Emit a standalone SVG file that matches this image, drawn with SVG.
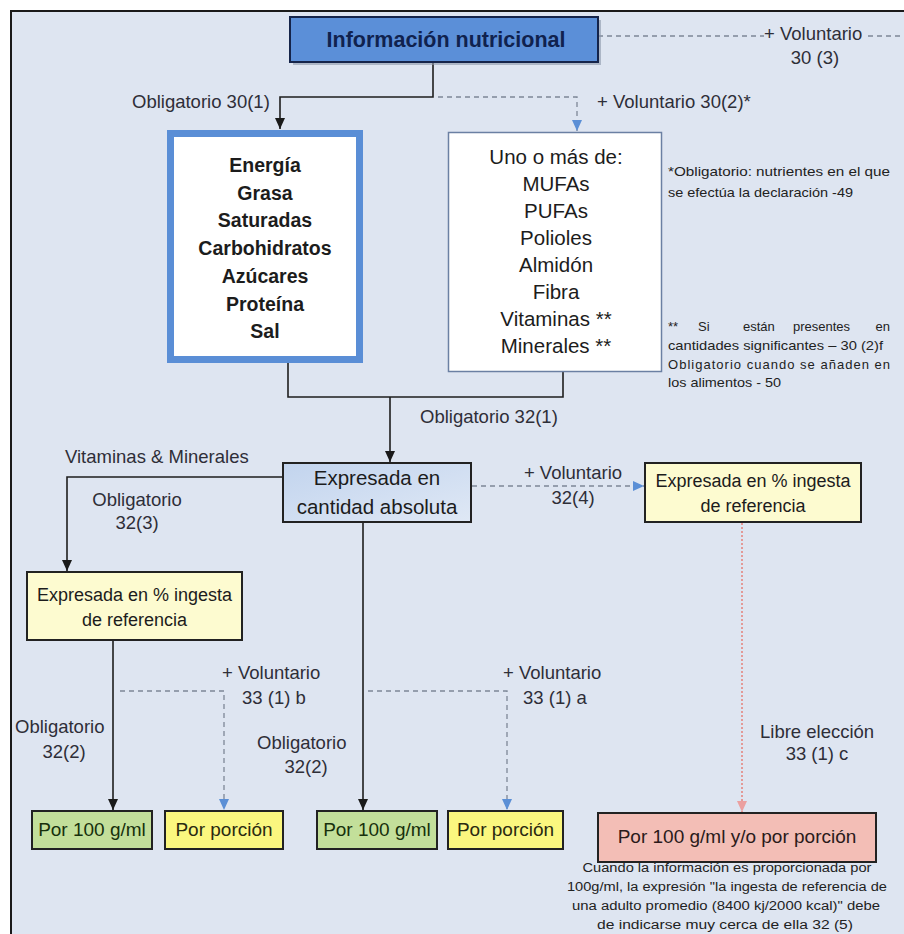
<svg xmlns="http://www.w3.org/2000/svg" width="904" height="934" viewBox="0 0 904 934">
<defs>
<style>
text{font-family:"Liberation Sans",Arial,sans-serif;fill:#1c1c1c}
.lbl{font-size:18.5px;fill:#2e2e38}
.box{font-size:18px}
.bold{font-weight:bold}
.note{font-size:13px;fill:#222}
.cap{font-size:12.5px;fill:#222}
.mid{text-anchor:middle}
.solid{fill:none;stroke:#1e1e1e;stroke-width:1.6}
.dash{fill:none;stroke:#7d8797;stroke-width:1.3;stroke-dasharray:5 4}
.dot{fill:none;stroke:#e39a98;stroke-width:2;stroke-dasharray:2 2}
.bx{stroke:#222;stroke-width:2}
.lb{font-weight:bold;font-size:19.5px}
.rb{font-size:20.5px}
.sm{font-size:19px}
</style>
<marker id="ab" markerUnits="userSpaceOnUse" markerWidth="12" markerHeight="12" refX="11" refY="6" orient="auto"><path d="M0,1 L11,6 L0,11 z" fill="#1a1a1a"/></marker>
<marker id="au" markerUnits="userSpaceOnUse" markerWidth="12" markerHeight="12" refX="11" refY="6" orient="auto"><path d="M0,1 L11,6 L0,11 z" fill="#5b8fd6"/></marker>
<marker id="ap" markerUnits="userSpaceOnUse" markerWidth="12" markerHeight="12" refX="11" refY="6" orient="auto"><path d="M0,1 L11,6 L0,11 z" fill="#eba0a0"/></marker>
<linearGradient id="gb" x1="0" y1="0" x2="1" y2="1"><stop offset="0" stop-color="#c2d4ee"/><stop offset="1" stop-color="#dfe8f5"/></linearGradient>
</defs>
<rect width="904" height="934" fill="#ffffff"/>
<rect x="11" y="11" width="900" height="930" fill="#dee5f1" stroke="#1a1a1a" stroke-width="2"/>

<g id="connectors">
<path class="solid" d="M433,62 V97 H280 V129" marker-end="url(#ab)"/>
<path class="dash" d="M438,97 H577 V131" marker-end="url(#au)"/>
<path class="dash" d="M598,36 H764"/>
<path class="dash" d="M868,36 H904"/>
<path class="solid" d="M288,363 V397 H563 V372"/>
<path class="solid" d="M390,397 V462" marker-end="url(#ab)"/>
<path class="solid" d="M283,477 H67 V571" marker-end="url(#ab)"/>
<path class="dash" d="M472,486 H644" marker-end="url(#au)"/>
<path class="solid" d="M113,640 V810" marker-end="url(#ab)"/>
<path class="dash" d="M120,691 H224 V810" marker-end="url(#au)"/>
<path class="solid" d="M363,522 V810" marker-end="url(#ab)"/>
<path class="dash" d="M368,691 H507 V810" marker-end="url(#au)"/>
<path class="dot" d="M742,523 V812" marker-end="url(#ap)"/>
</g>

<g id="labels">
<text class="lbl" x="764" y="40">+ Voluntario</text>
<text class="lbl mid" x="815" y="64">30 (3)</text>
<text class="lbl" x="132" y="108">Obligatorio 30(1)</text>
<text class="lbl" x="597" y="108">+ Voluntario 30(2)*</text>
<text class="lbl" x="420" y="423">Obligatorio 32(1)</text>
<text class="lbl" x="65" y="463">Vitaminas &amp; Minerales</text>
<text class="lbl mid" x="137" y="506">Obligatorio</text>
<text class="lbl mid" x="137" y="529">32(3)</text>
<text class="lbl mid" x="573" y="479">+ Voluntario</text>
<text class="lbl mid" x="573" y="504">32(4)</text>
<text class="lbl" x="222" y="679">+ Voluntario</text>
<text class="lbl" x="242" y="704">33 (1) b</text>
<text class="lbl" x="15" y="733">Obligatorio</text>
<text class="lbl mid" x="64" y="758">32(2)</text>
<text class="lbl" x="503" y="679">+ Voluntario</text>
<text class="lbl" x="523" y="704">33 (1) a</text>
<text class="lbl" x="257" y="749">Obligatorio</text>
<text class="lbl mid" x="306" y="773">32(2)</text>
<text class="lbl" x="760" y="738">Libre elección</text>
<text class="lbl mid" x="817" y="760">33 (1) c</text>
</g>

<g id="notes">
<text class="note" x="668" y="176" textLength="222" lengthAdjust="spacingAndGlyphs">*Obligatorio: nutrientes en el que</text>
<text class="note" x="668" y="197" textLength="185" lengthAdjust="spacingAndGlyphs">se efectúa la declaración -49</text>
<text class="note" x="668" y="331">**</text>
<text class="note" x="698" y="331">Si</text>
<text class="note" x="743" y="331">están</text>
<text class="note" x="793" y="331">presentes</text>
<text class="note" x="890" y="331" text-anchor="end">en</text>
<text class="note" x="668" y="350" textLength="215" lengthAdjust="spacingAndGlyphs">cantidades significantes – 30 (2)f</text>
<text class="note" x="668" y="369" textLength="222" lengthAdjust="spacing">Obligatorio cuando se añaden en</text>
<text class="note" x="668" y="387" textLength="113" lengthAdjust="spacingAndGlyphs">los alimentos - 50</text>
</g>

<g id="n-info">
<rect x="293" y="20" width="308" height="45" fill="#8a96aa" opacity="0.6"/>
<rect x="290" y="17" width="308" height="45" fill="#5b8fd8" stroke="#15244a" stroke-width="2"/>
<text class="bold mid" x="446" y="47" style="font-size:21.5px;fill:#10224e">Información nutricional</text>
</g>

<g id="n-oblig">
<rect x="170.5" y="133.5" width="189" height="226" fill="#ffffff" stroke="#5a8ed6" stroke-width="7"/>
<text class="lb mid" x="265" y="172">Energía</text>
<text class="lb mid" x="265" y="199.7">Grasa</text>
<text class="lb mid" x="265" y="227.4">Saturadas</text>
<text class="lb mid" x="265" y="255">Carbohidratos</text>
<text class="lb mid" x="265" y="282.8">Azúcares</text>
<text class="lb mid" x="265" y="310.5">Proteína</text>
<text class="lb mid" x="265" y="338">Sal</text>
</g>

<g id="n-volunt">
<rect x="448.5" y="132.5" width="213" height="239" fill="#ffffff" stroke="#6b80a3" stroke-width="1.5"/>
<text class="rb mid" x="556" y="164">Uno o más de:</text>
<text class="rb mid" x="556" y="191">MUFAs</text>
<text class="rb mid" x="556" y="218">PUFAs</text>
<text class="rb mid" x="556" y="245">Polioles</text>
<text class="rb mid" x="556" y="272">Almidón</text>
<text class="rb mid" x="556" y="299">Fibra</text>
<text class="rb mid" x="556" y="326">Vitaminas **</text>
<text class="rb mid" x="556" y="353">Minerales **</text>
</g>

<g id="n-absoluta">
<rect x="283" y="463" width="188" height="59" fill="url(#gb)" class="bx"/>
<text class="rb mid" x="377" y="485">Expresada en</text>
<text class="rb mid" x="377" y="514">cantidad absoluta</text>
</g>

<g id="n-ingesta-r">
<rect x="645" y="463" width="216" height="59" fill="#fdfbd0" class="bx"/>
<text class="box mid" x="753" y="487">Expresada en %  ingesta</text>
<text class="box mid" x="753" y="512">de referencia</text>
</g>

<g id="n-ingesta-l">
<rect x="27" y="572" width="215" height="68" fill="#fdfbd0" class="bx"/>
<text class="box mid" x="134.5" y="601">Expresada en %  ingesta</text>
<text class="box mid" x="134.5" y="626">de referencia</text>
</g>

<g id="n-100-a">
<rect x="32" y="811" width="120" height="38" fill="#c3df9a" class="bx"/>
<text class="sm mid" x="92" y="836" style="fill:#17300c">Por 100 g/ml</text>
</g>
<g id="n-porcion-a">
<rect x="165" y="811" width="118" height="38" fill="#fbf77f" class="bx"/>
<text class="sm mid" x="224" y="836" style="fill:#2a2a10">Por porción</text>
</g>
<g id="n-100-b">
<rect x="317" y="811" width="120" height="38" fill="#c3df9a" class="bx"/>
<text class="sm mid" x="377" y="836" style="fill:#17300c">Por 100 g/ml</text>
</g>
<g id="n-porcion-b">
<rect x="448" y="811" width="115" height="38" fill="#fbf77f" class="bx"/>
<text class="sm mid" x="505.5" y="836" style="fill:#2a2a10">Por porción</text>
</g>

<g id="n-libre">
<rect x="598" y="813" width="278" height="49" fill="#f3beb6" class="bx"/>
<text class="mid" x="737" y="843" style="font-size:19px;fill:#2a1a1a">Por 100 g/ml y/o por porción</text>
<text class="cap mid" x="727" y="872" textLength="289" lengthAdjust="spacingAndGlyphs">Cuando la información es proporcionada por</text>
<text class="cap mid" x="727" y="891" textLength="320" lengthAdjust="spacingAndGlyphs">100g/ml, la expresión "la ingesta de referencia de</text>
<text class="cap mid" x="726" y="910" textLength="308" lengthAdjust="spacingAndGlyphs">una adulto promedio (8400 kj/2000 kcal)" debe</text>
<text class="cap mid" x="725" y="929" textLength="256" lengthAdjust="spacingAndGlyphs">de indicarse muy cerca de ella 32 (5)</text>
</g>
</svg>
